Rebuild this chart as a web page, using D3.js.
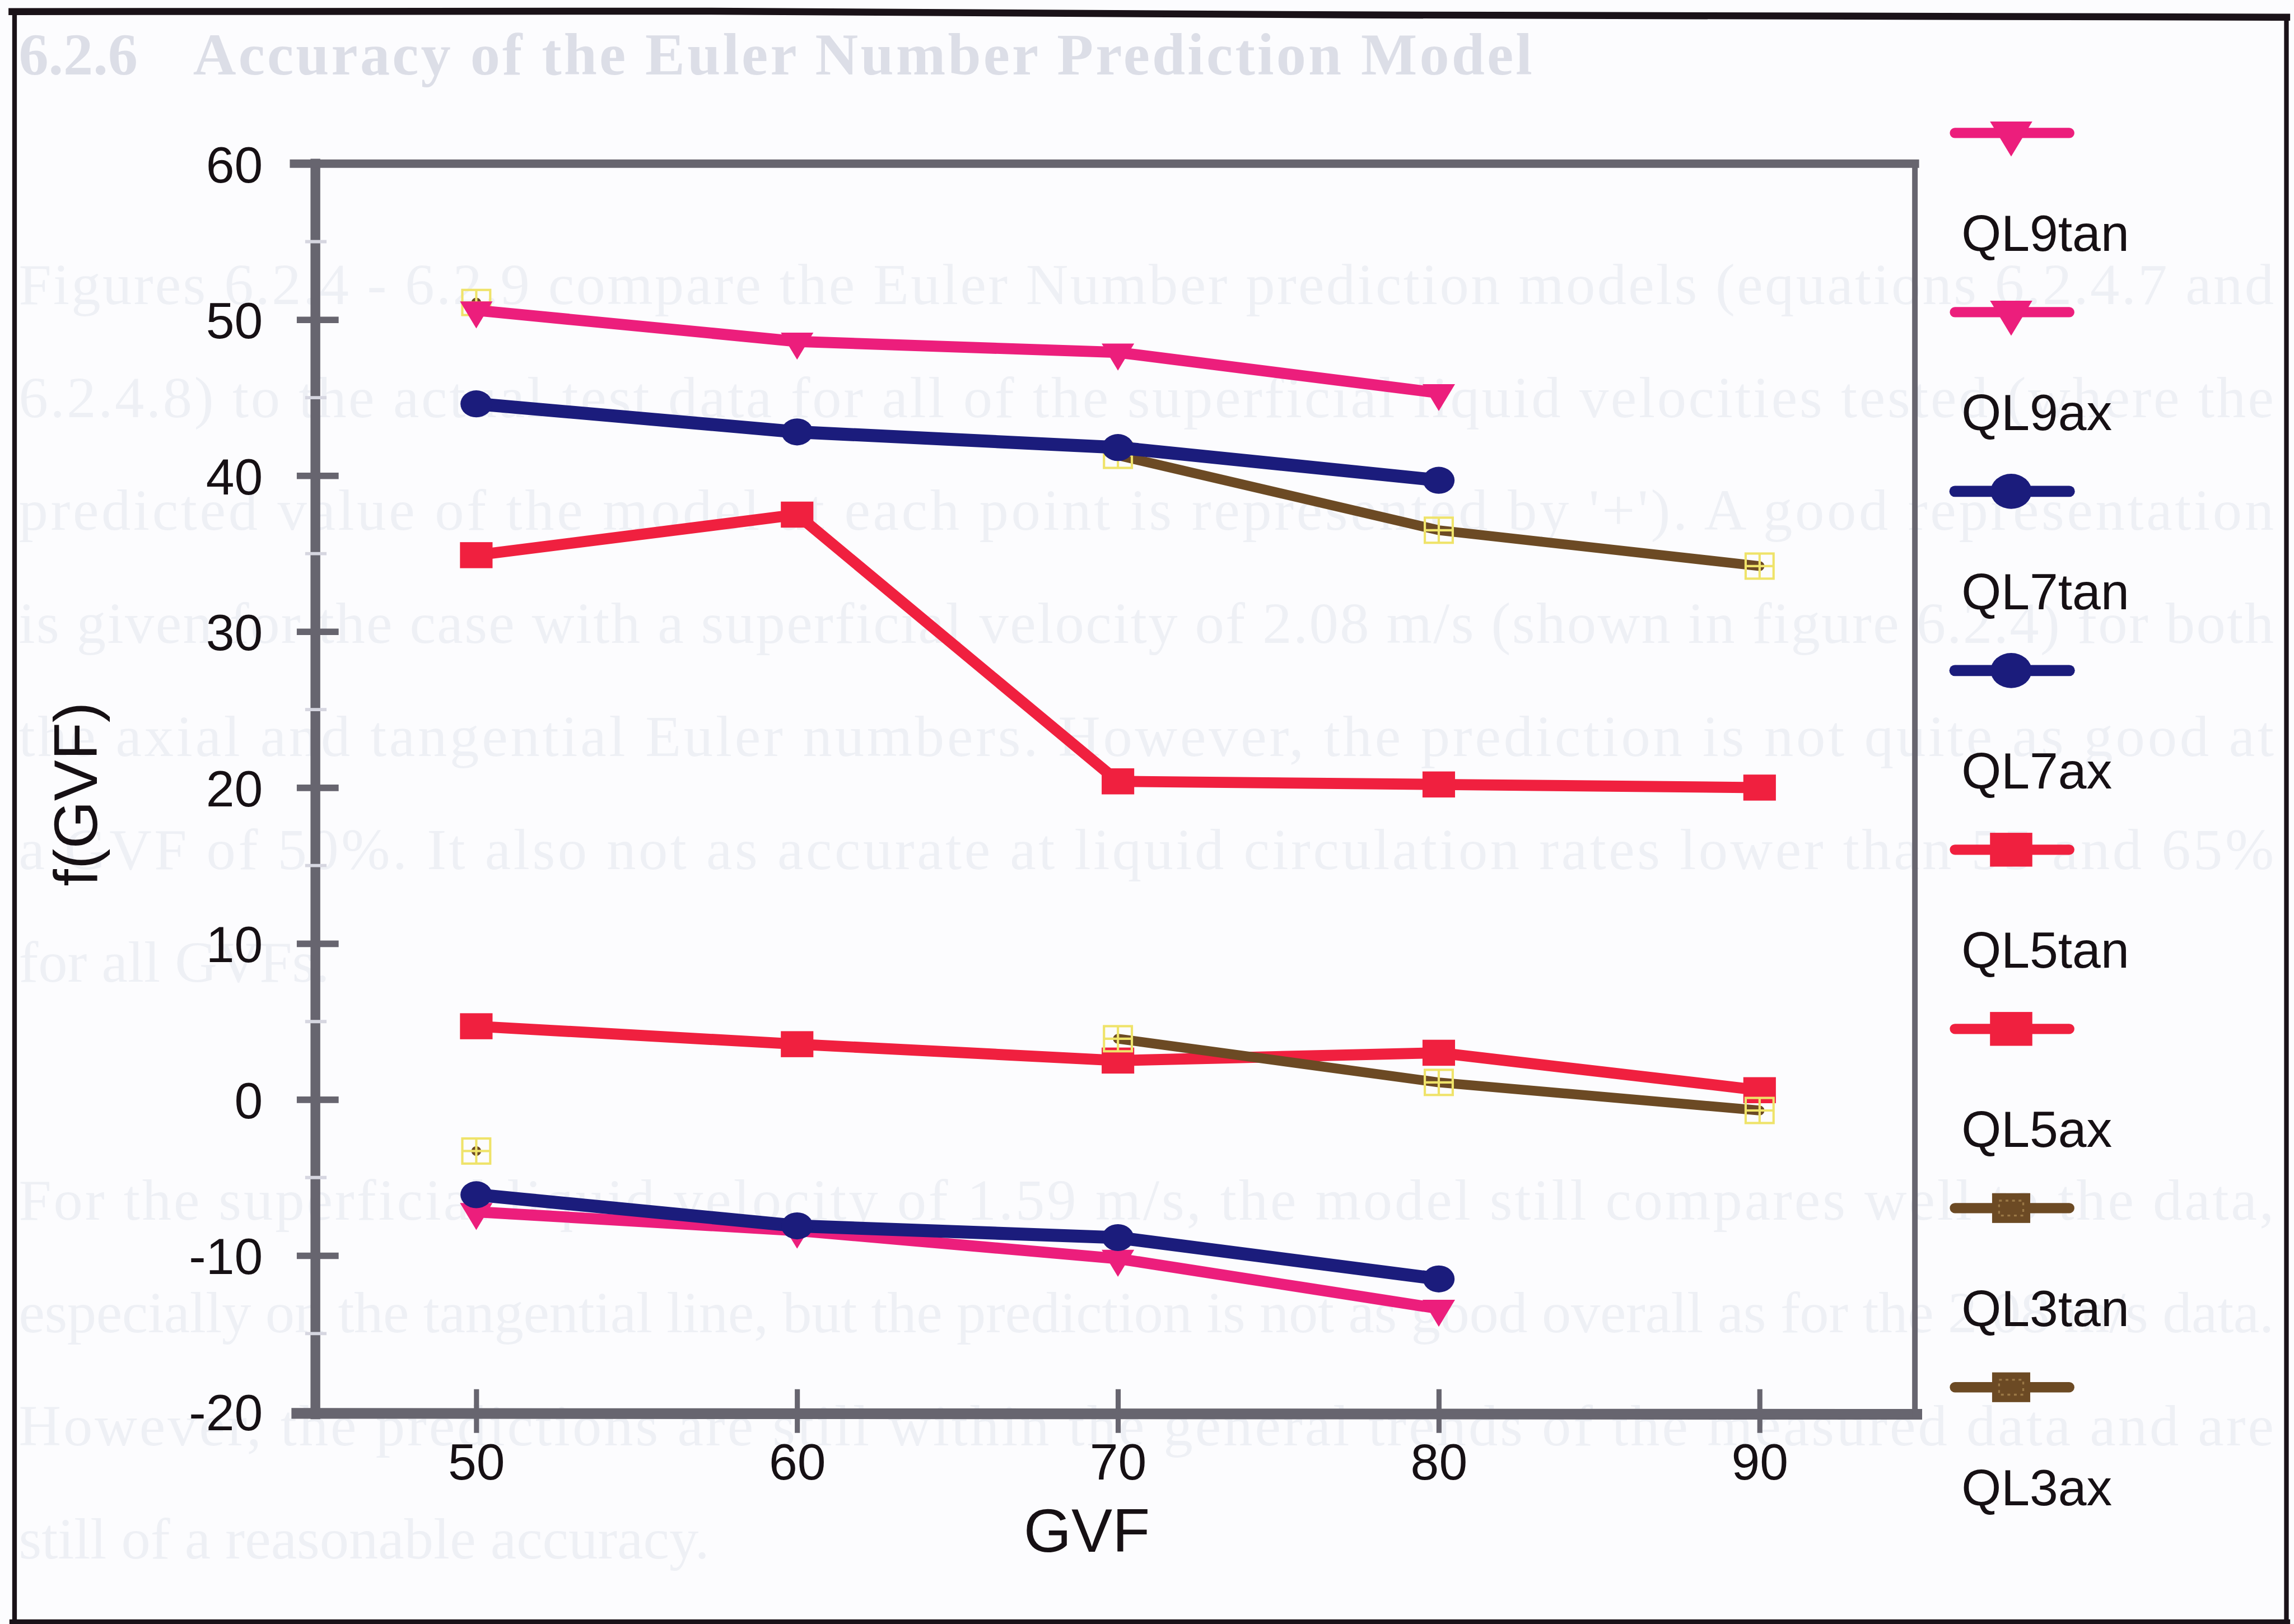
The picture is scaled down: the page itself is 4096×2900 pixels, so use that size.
<!DOCTYPE html>
<html>
<head>
<meta charset="utf-8">
<script src="https://cdn.jsdelivr.net/npm/d3@7"></script>
<style>
  html, body { margin: 0; padding: 0; background: #fcfcfe; }
  svg { display: block; }
</style>
</head>
<body>
<svg id="chart"></svg>
<script>
// ---- data -------------------------------------------------------------
// gas volume fraction (%) on the x axis
const gvf = [50, 60, 70, 80, 90];

// f(GVF) for each liquid flow rate, tangential and axial components
const ql9tan = [50.6, 48.6, 47.9, 45.3, null];
const ql9ax  = [-7.2, -8.4, -10.2, -13.4, null];
const ql7tan = [44.6, 42.8, 41.8, 39.7, null];
const ql7ax  = [-6.1, -8.1, -8.85, -11.5, null];
const ql5tan = [34.9, 37.5, 20.4, 20.2, 20.0];
const ql5ax  = [4.7, 3.55, 2.5, 3.0, 0.6];
const ql3tan = [51.1, null, 41.3, 36.5, 34.2];
const ql3ax  = [-3.3, null, 3.9, 1.1, -0.7];

const legendLabels = ["QL9tan", "QL9ax", "QL7tan", "QL7ax", "QL5tan", "QL5ax", "QL3tan", "QL3ax"];
const xTicks = [50, 60, 70, 80, 90];
const yTicks = [-20, -10, 0, 10, 20, 30, 40, 50, 60];
const yMinorTicks = [-15, -5, 5, 15, 25, 35, 45, 55];
const xTitle = "GVF";
const yTitle = "f(GVF)";

// page text showing through behind the figure
const sectionNumber = "6.2.6";
const sectionTitle = "Accuracy of the Euler Number Prediction Model";
const paragraph1 = [
  "Figures 6.2.4 - 6.2.9 compare the Euler Number prediction models (equations 6.2.4.7 and",
  "6.2.4.8) to the actual test data for all of the superficial liquid velocities tested (where the",
  "predicted value of the model at each point is represented by '+'). A good representation",
  "is given for the case with a superficial velocity of 2.08 m/s (shown in figure 6.2.4) for both",
  "the axial and tangential Euler numbers. However, the prediction is not quite as good at",
  "a GVF of 50%. It also not as accurate at liquid circulation rates lower than 55 and 65%",
  "for all GVFs."
];
const paragraph2 = [
  "For the superficial liquid velocity of 1.59 m/s, the model still compares well to the data,",
  "especially on the tangential line, but the prediction is not as good overall as for the 2.08 m/s data.",
  "However, the predictions are still within the general trends of the measured data and are",
  "still of a reasonable accuracy."
];

// ---- series styling --------------------------------------------------
const COLORS = {
  pink: "#ec1e7c", navy: "#1b1c7c", red: "#f0203f", brown: "#6c4a24",
  yellow: "#efe36a", axis: "#67656f", text: "#161014", border: "#1a1218"
};

// draw order: red, brown, pink, navy (later ones sit on top)
const series = [
  { name: legendLabels[4], values: ql5tan, color: COLORS.red,   width: 24, marker: "square" },
  { name: legendLabels[5], values: ql5ax,  color: COLORS.red,   width: 24, marker: "square" },
  { name: legendLabels[6], values: ql3tan, color: COLORS.brown, width: 21, marker: "crossbox" },
  { name: legendLabels[7], values: ql3ax,  color: COLORS.brown, width: 21, marker: "crossbox" },
  { name: legendLabels[0], values: ql9tan, color: COLORS.pink,  width: 24, marker: "tri" },
  { name: legendLabels[1], values: ql9ax,  color: COLORS.pink,  width: 24, marker: "tri" },
  { name: legendLabels[2], values: ql7tan, color: COLORS.navy,  width: 28, marker: "circle" },
  { name: legendLabels[3], values: ql7ax,  color: COLORS.navy,  width: 28, marker: "circle" }
];

const legendStyle = {
  QL9tan: { color: COLORS.pink,  marker: "tri",      width: 22 },
  QL9ax:  { color: COLORS.pink,  marker: "tri",      width: 22 },
  QL7tan: { color: COLORS.navy,  marker: "circle",   width: 24 },
  QL7ax:  { color: COLORS.navy,  marker: "circle",   width: 24 },
  QL5tan: { color: COLORS.red,   marker: "square",   width: 22 },
  QL5ax:  { color: COLORS.red,   marker: "square",   width: 22 },
  QL3tan: { color: COLORS.brown, marker: "brownbox", width: 22 },
  QL3ax:  { color: COLORS.brown, marker: "brownbox", width: 22 }
};

// ---- canvas ----------------------------------------------------------
const W = 4933, H = 3493;
const svg = d3.select("#chart")
  .attr("width", 4096).attr("height", 2900)
  .attr("viewBox", `0 0 ${W} ${H}`);

svg.append("rect").attr("width", W).attr("height", H).attr("fill", "#fcfcfe");

const SANS = "'Liberation Sans', Arial, Helvetica, sans-serif";
const SERIF = "'Liberation Serif', 'Times New Roman', serif";

// ---- faint page text behind the figure ------------------------------
const page = svg.append("g").attr("font-family", SERIF);
page.append("text")
  .attr("x", 40).attr("y", 160)
  .attr("font-size", 128).attr("font-weight", "bold")
  .attr("fill", "#dcdee7")
  .text(sectionNumber);
page.append("text")
  .attr("x", 415).attr("y", 160)
  .attr("font-size", 128).attr("font-weight", "bold")
  .attr("fill", "#dcdee7")
  .attr("textLength", 2880).attr("lengthAdjust", "spacing")
  .text(sectionTitle);

function bodyLines(lines, top) {
  const lineGap = 243;
  page.selectAll(null)
    .data(lines)
    .enter().append("text")
    .attr("x", 40)
    .attr("y", (d, i) => top + i * lineGap + 30)
    .attr("font-size", 126)
    .attr("fill", "#eef0f5")
    .each(function (d, i) {
      if (i < lines.length - 1) {
        d3.select(this).attr("textLength", 4850).attr("lengthAdjust", "spacing");
      }
    })
    .text(d => d);
}
bodyLines(paragraph1, 624);
bodyLines(paragraph2, 2593);

// ---- outer page frame ------------------------------------------------
const frame = svg.append("g").attr("stroke", COLORS.border).attr("fill", "none");
frame.append("path").attr("d", "M18,25 L1500,24 L2900,32 L4925,37").attr("stroke-width", 15);
frame.append("line").attr("x1", 31).attr("y1", 20).attr("x2", 31).attr("y2", 3493).attr("stroke-width", 10);
frame.append("line").attr("x1", 4917).attr("y1", 30).attr("x2", 4917).attr("y2", 3493).attr("stroke-width", 10);
frame.append("line").attr("x1", 20).attr("y1", 3488).attr("x2", 4925).attr("y2", 3488).attr("stroke-width", 10);

// ---- scales ------------------------------------------------------------
const x = d3.scaleLinear().domain([50, 90]).range([1024, 3784]);
const y = d3.scaleLinear().domain([-20, 60]).range([3036, 352]);

const plotLeft = 678, plotRight = 4118;
const plotTop = y(60), plotBottom = y(-20);

// ---- axes ------------------------------------------------------------------
const axesG = svg.append("g");
const plainNumber = d => String(d);

const yAxisG = axesG.append("g").attr("transform", `translate(${plotLeft + 50},0)`)
  .call(d3.axisLeft(y).tickValues(yTicks).tickSize(90).tickPadding(73).tickFormat(plainNumber));
yAxisG.select(".domain").remove();
yAxisG.selectAll(".tick line").attr("stroke", COLORS.axis).attr("stroke-width", 14);
yAxisG.selectAll(".tick text")
  .attr("font-family", SANS).attr("font-size", 110).attr("fill", COLORS.text)
  .attr("dy", "0.36em");

const xAxisG = axesG.append("g").attr("transform", `translate(0,${plotBottom - 48})`)
  .call(d3.axisBottom(x).tickValues(xTicks).tickSize(94).tickPadding(22).tickFormat(plainNumber));
xAxisG.select(".domain").remove();
xAxisG.selectAll(".tick line").attr("stroke", COLORS.axis).attr("stroke-width", 11);
xAxisG.selectAll(".tick text")
  .attr("font-family", SANS).attr("font-size", 110).attr("fill", COLORS.text);

// plot frame lines
const frameG = axesG.append("g").attr("stroke", COLORS.axis).attr("fill", "none").attr("stroke-linecap", "square");
frameG.append("line").attr("x1", plotLeft).attr("x2", plotLeft).attr("y1", plotTop).attr("y2", plotBottom + 6).attr("stroke-width", 21);
frameG.append("line").attr("x1", 632).attr("x2", plotRight).attr("y1", plotTop).attr("y2", plotTop).attr("stroke-width", 18);
frameG.append("line").attr("x1", 638).attr("x2", plotRight + 4).attr("y1", plotBottom + 4).attr("y2", plotBottom + 6).attr("stroke-width", 23);
frameG.append("line").attr("x1", plotRight).attr("x2", plotRight).attr("y1", plotTop).attr("y2", plotBottom + 6).attr("stroke-width", 12);

// light minor tick marks across the left axis
axesG.append("g").selectAll("line")
  .data(yMinorTicks)
  .enter().append("line")
  .attr("x1", plotLeft - 22).attr("x2", plotLeft + 24)
  .attr("y1", d => y(d)).attr("y2", d => y(d))
  .attr("stroke", "#d6d6e0").attr("stroke-width", 7);

// axis titles
axesG.append("text")
  .attr("x", 2337).attr("y", 3338)
  .attr("text-anchor", "middle")
  .attr("font-family", SANS).attr("font-size", 132).attr("fill", COLORS.text)
  .text(xTitle);
axesG.append("text")
  .attr("transform", `translate(208,${(plotTop + plotBottom) / 2 + 14}) rotate(-90)`)
  .attr("text-anchor", "middle")
  .attr("font-family", SANS).attr("font-size", 132).attr("fill", COLORS.text)
  .text(yTitle);

// ---- markers -------------------------------------------------------------
function drawMarker(g, type, cx, cy, color, s) {
  if (type === "tri") {
    g.append("path")
      .attr("d", `M${cx - 35 * s},${cy - 19 * s} L${cx + 35 * s},${cy - 19 * s} L${cx},${cy + 39 * s} Z`)
      .attr("fill", color);
  } else if (type === "circle") {
    g.append("ellipse").attr("cx", cx).attr("cy", cy)
      .attr("rx", 34 * s).attr("ry", 29 * s).attr("fill", color);
  } else if (type === "square") {
    g.append("rect").attr("x", cx - 35 * s).attr("y", cy - 28 * s)
      .attr("width", 70 * s).attr("height", 56 * s).attr("fill", color);
  } else if (type === "crossbox") {
    const b = g.append("g").attr("stroke", COLORS.yellow).attr("stroke-width", 5).attr("fill", "none");
    b.append("rect").attr("x", cx - 30).attr("y", cy - 27).attr("width", 60).attr("height", 54);
    b.append("line").attr("x1", cx).attr("x2", cx).attr("y1", cy - 27).attr("y2", cy + 27);
    b.append("line").attr("x1", cx - 30).attr("x2", cx + 30).attr("y1", cy).attr("y2", cy);
  } else if (type === "brownbox") {
    g.append("rect").attr("x", cx - 41).attr("y", cy - 32)
      .attr("width", 82).attr("height", 64).attr("fill", color);
    g.append("rect").attr("x", cx - 26).attr("y", cy - 16)
      .attr("width", 52).attr("height", 32).attr("fill", "none")
      .attr("stroke", "#9a7846").attr("stroke-width", 4).attr("stroke-dasharray", "6 8");
  }
}

// ---- data lines ------------------------------------------------------------
const line = d3.line()
  .defined(d => d.v !== null)
  .x(d => x(d.g))
  .y(d => y(d.v));

const plotG = svg.append("g");
series.forEach(s => {
  const pts = gvf.map((g, i) => ({ g, v: s.values[i] }));
  const sg = plotG.append("g");
  sg.append("path")
    .datum(pts)
    .attr("d", line)
    .attr("fill", "none")
    .attr("stroke", s.color)
    .attr("stroke-width", s.width)
    .attr("stroke-linejoin", "round")
    .attr("stroke-linecap", "round");
  pts.filter(p => p.v !== null).forEach(p => {
    drawMarker(sg, s.marker, x(p.g), y(p.v), s.color, 1);
  });
});

// ---- legend ---------------------------------------------------------------
const legendG = svg.append("g");
const legendTop = 286, legendStep = 385.4;
legendLabels.forEach((name, i) => {
  const st = legendStyle[name];
  const ly = legendTop + i * legendStep;
  const item = legendG.append("g");
  item.append("line")
    .attr("x1", 4204).attr("x2", 4450)
    .attr("y1", ly).attr("y2", ly)
    .attr("stroke", st.color).attr("stroke-width", st.width).attr("stroke-linecap", "round");
  drawMarker(item, st.marker, 4325, ly, st.color, 1.3);
  item.append("text")
    .attr("x", 4218).attr("y", ly + 254)
    .attr("font-family", SANS).attr("font-size", 110).attr("fill", COLORS.text)
    .text(name);
});
</script>
</body>
</html>
